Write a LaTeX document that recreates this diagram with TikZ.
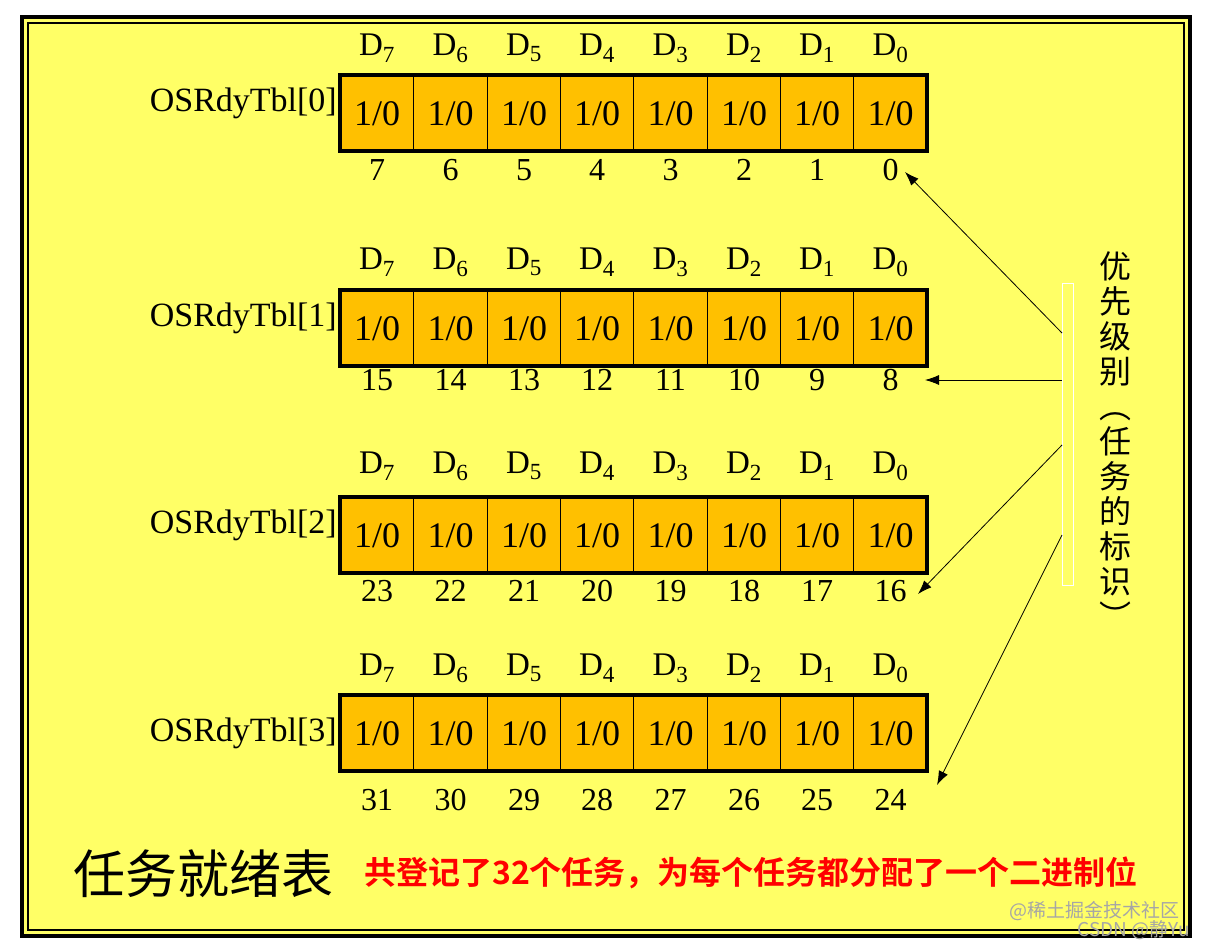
\documentclass[tikz,border=0pt]{standalone}
\usepackage{fontspec}
\usetikzlibrary{arrows.meta}
\setmainfont{Liberation Serif}
\newfontfamily\cjk{Noto Sans CJK SC}
\newfontfamily\cjkb{Noto Sans CJK SC Bold}
\definecolor{bgy}{HTML}{FFFF66}
\definecolor{cello}{HTML}{FFC000}
\begin{document}
\begin{tikzpicture}[x=1pt,y=-1pt,
  cellbox/.style={draw=black,line width=1pt,fill=cello,minimum width=73pt,minimum height=76pt,inner sep=0pt,font=\fontsize{36}{36}\selectfont},
  dlab/.style={font=\fontsize{33}{33}\selectfont},
  nlab/.style={font=\fontsize{32}{32}\selectfont},
  tlab/.style={font=\fontsize{34}{34}\selectfont,anchor=east,inner sep=1pt},
  arr/.style={-{Latex[length=14pt,width=10pt]},line width=0.8pt}]
\useasboundingbox (0,0) rectangle (1205,947);
\fill[white] (0,0) rectangle (1205,947);
\fill[bgy] (20,15) rectangle (1192,938);
\draw[line width=4pt] (22,17) rectangle (1190,936);
\draw[line width=1.2pt] (28,23) rectangle (1184,930);
\foreach \r/\top/\dy/\ny/\ty/\nums in {0/75/48/170/103/{7,6,5,4,3,2,1,0},1/290/262/380/318/{15,14,13,12,11,10,9,8},2/497/466/591/525/{23,22,21,20,19,18,17,16},3/695/668/800/733/{31,30,29,28,27,26,25,24}}{
  \foreach \xa/\xb [count=\i] in {340/413,413/487,487/560,560/633,633/707,707/780,780/853,853/927}{
    \node[cellbox,minimum width={\xb-\xa},anchor=north west] (c\r\i) at (\xa,\top) {1/0};
  }
  \draw[line width=4pt] (340,\top) rectangle (927,\top+76);
  \foreach \d [count=\i] in {7,6,5,4,3,2,1,0}{
    \node[dlab] (d\r\i) at (c\r\i.center |- 0,\dy) {D\textsubscript{\d}};
  }
  \foreach \n [count=\i] in \nums{
    \node[nlab] (n\r\i) at (c\r\i.center |- 0,\ny) {\n};
  }
  \node[tlab] (t\r) at (338,\ty) {OSRdyTbl[\r]};
}
\draw[white,line width=0.8pt] (1062,283) rectangle (1073,585);
\coordinate (s0) at (1062,333);
\coordinate (s1) at (1062,380);
\coordinate (s2) at (1062,445);
\coordinate (s3) at (1062,535);
\coordinate (e0) at (905,172);
\coordinate (e1) at (925,380);
\coordinate (e2) at (918,594);
\coordinate (e3) at (937,785);
\foreach \k in {0,1,2,3}{\draw[arr] (s\k) -- (e\k);}
\node[font=\cjk\fontsize{32}{35}\selectfont,align=center,inner sep=0pt] (vt) at (1115,440) {优\\先\\级\\别\\︵\\任\\务\\的\\标\\识\\︶};
\node[font=\cjk\fontsize{52}{52}\selectfont,anchor=west,inner sep=0pt] (title) at (73,874) {任务就绪表};
\node[font=\cjkb\fontsize{32}{32}\selectfont,text=red,anchor=west,inner sep=0pt] (sub) at (364,873) {共登记了32个任务，为每个任务都分配了一个二进制位};
\node[font=\cjk\fontsize{19}{19}\selectfont,text=gray!70,anchor=east,inner sep=0pt] (wm1) at (1180,911) {@稀土掘金技术社区};
\node[font=\cjk\fontsize{19}{19}\selectfont,text=gray!70,anchor=east,inner sep=0pt] (wm2) at (1190,930) {CSDN @静Yu};
\end{tikzpicture}
\end{document}
